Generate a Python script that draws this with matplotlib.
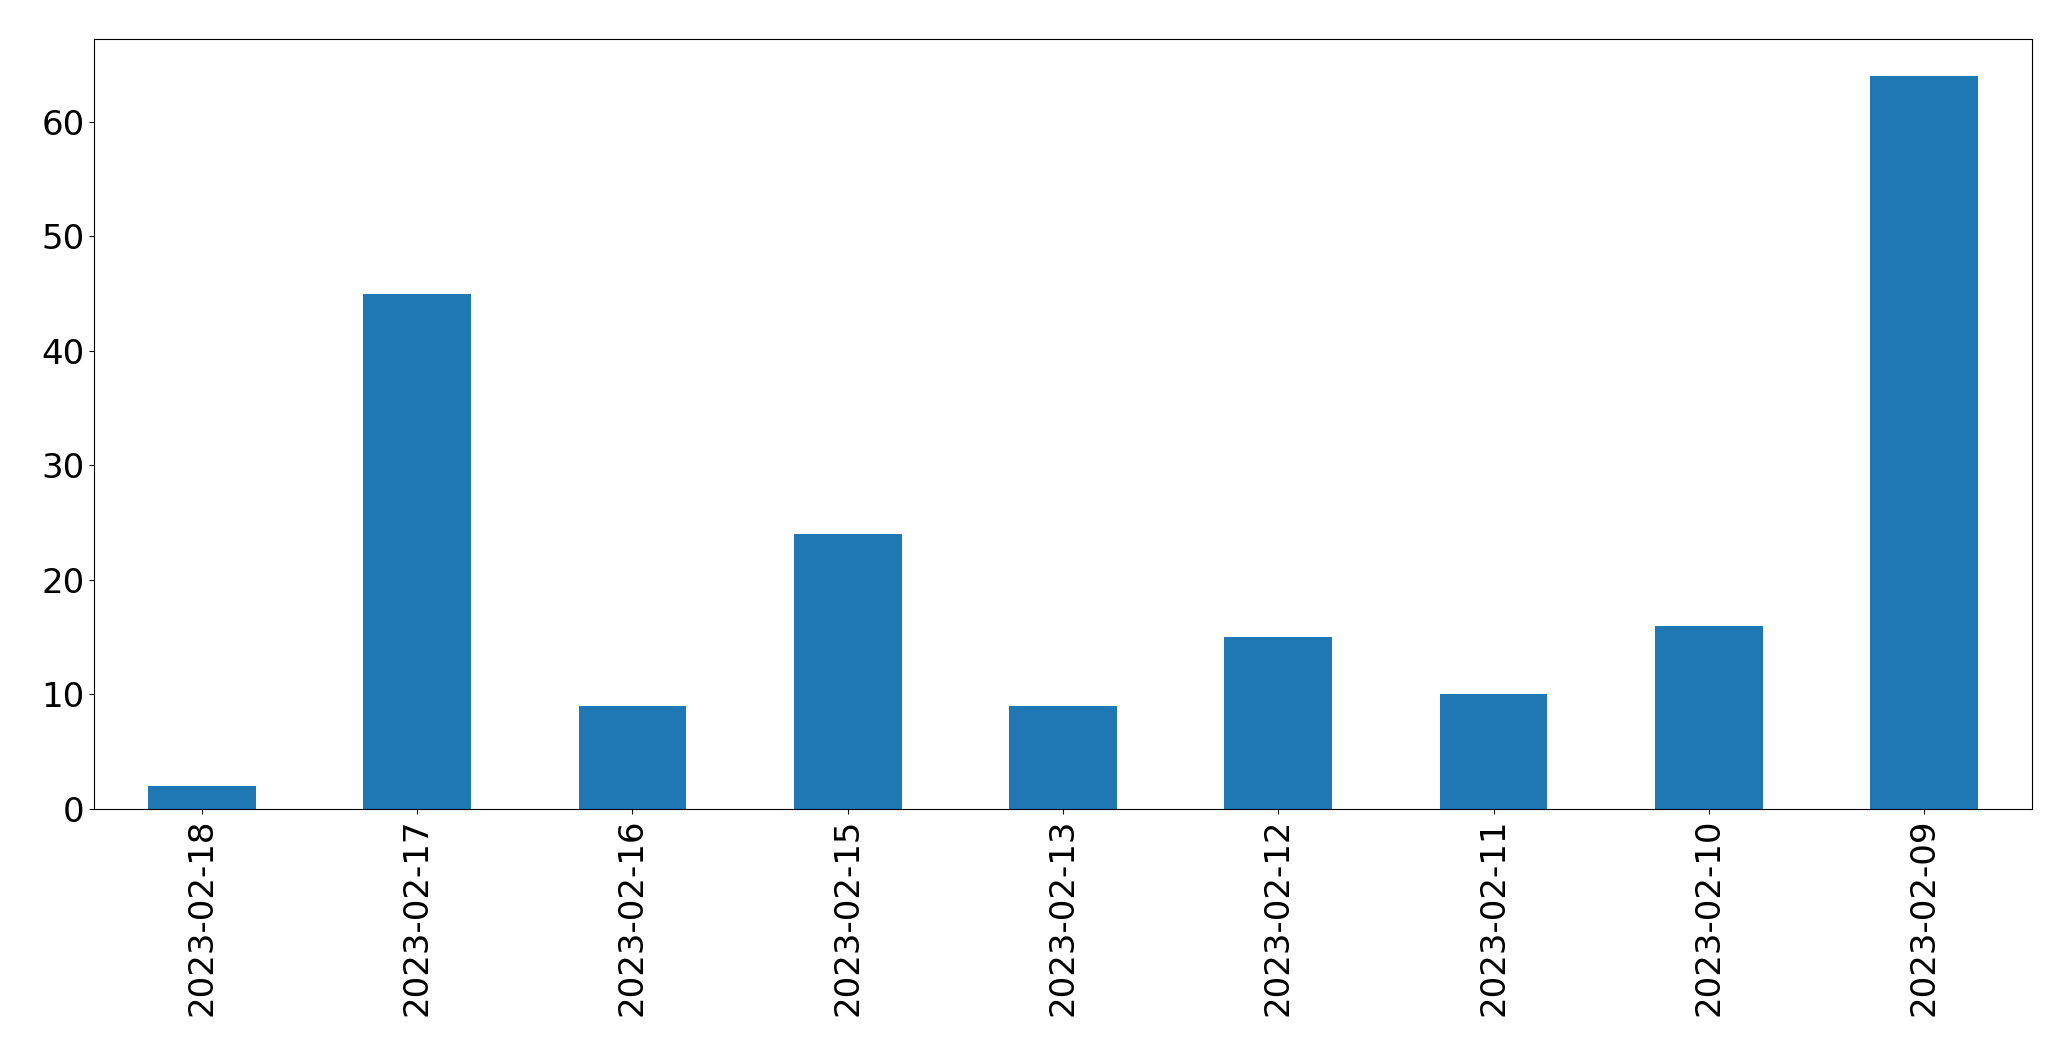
import pandas as pd
import matplotlib
matplotlib.use('Agg')
import matplotlib.pyplot as plt

# Daily counts (newest first, as in the original ordering)
dates = ['2023-02-18', '2023-02-17', '2023-02-16', '2023-02-15', '2023-02-13',
         '2023-02-12', '2023-02-11', '2023-02-10', '2023-02-09']
counts = [2, 45, 9, 24, 9, 15, 10, 16, 64]

s = pd.Series(counts, index=dates)

fig = plt.figure(figsize=(20.71, 10.61), dpi=100)
ax = fig.add_axes([94.3 / 2071, 1 - 809 / 1061, (2031.7 - 94.3) / 2071, (809 - 39.3) / 1061])
s.plot(kind='bar', ax=ax, color='#1f77b4', width=0.5)
ax.tick_params(axis='both', labelsize=24.5)
plt.setp(ax.get_xticklabels(), rotation=90)

fig.savefig('out.png', dpi=100)
